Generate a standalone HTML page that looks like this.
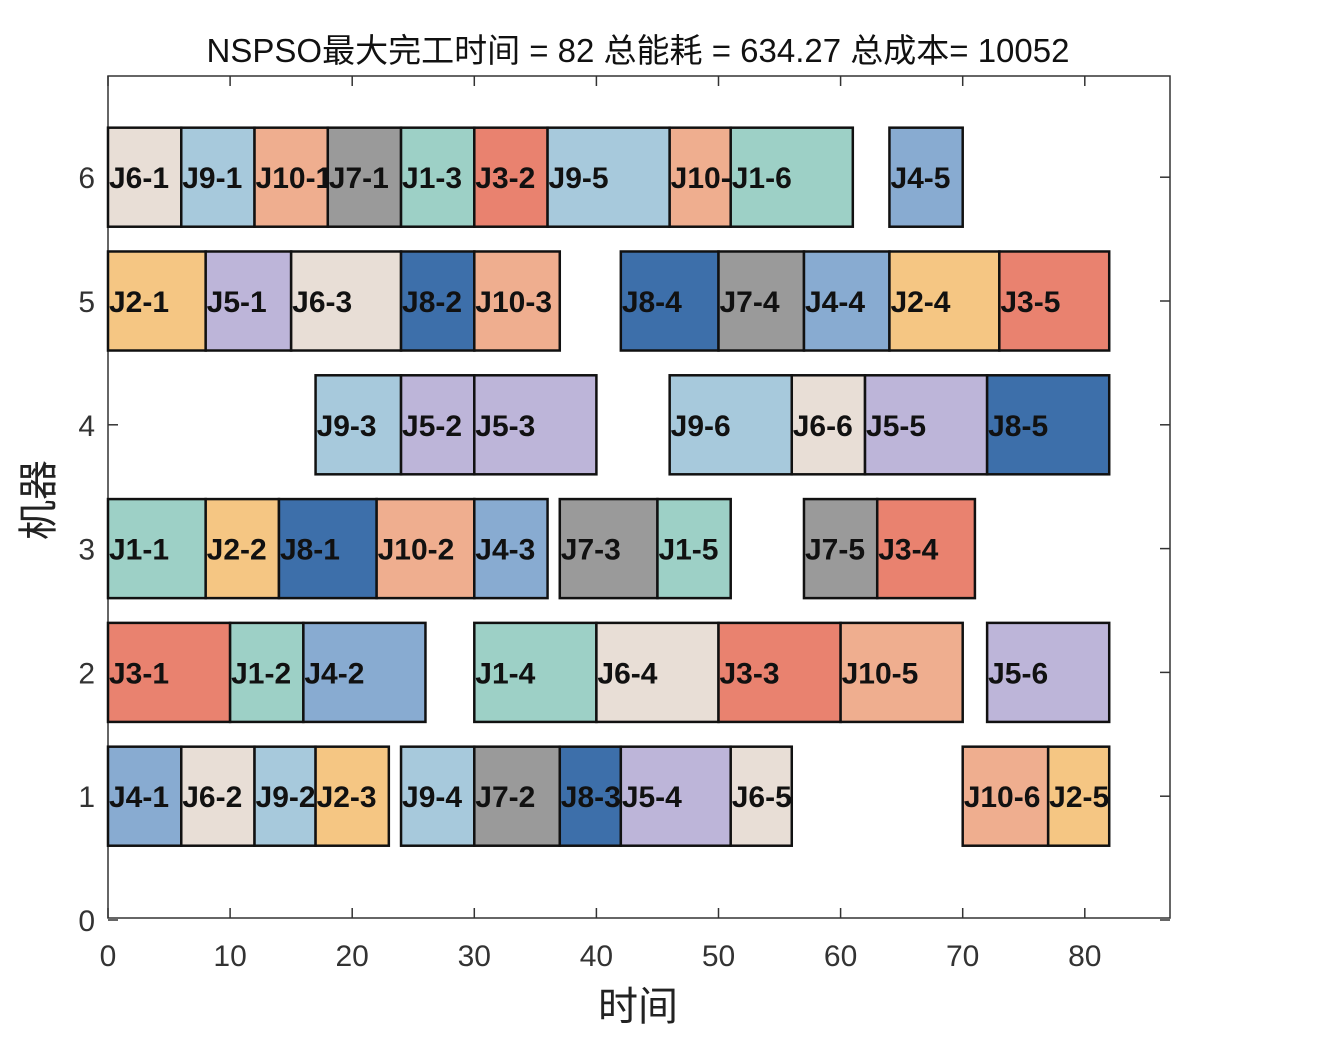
<!DOCTYPE html>
<html><head><meta charset="utf-8"><style>
html,body{margin:0;padding:0;background:#fff}
svg{display:block}
text{font-family:"Liberation Sans","Noto Sans CJK SC",sans-serif}
</style></head><body>
<svg id="chart" width="1318" height="1050" viewBox="0 0 1318 1050" xmlns="http://www.w3.org/2000/svg">
<text x="638" y="62" text-anchor="middle" font-size="33" fill="#111">NSPSO最大完工时间 = 82 总能耗 = 634.27 总成本= 10052</text>
<rect x="108" y="76" width="1062" height="842" fill="none" stroke="#333" stroke-width="1.5"/>
<g id="axes"></g>
<g id="bars"></g>
<text x="638" y="1020" text-anchor="middle" font-size="40" fill="#222">时间</text>
<text transform="translate(52,500) rotate(-90)" text-anchor="middle" font-size="40" fill="#222">机器</text>
</svg>
<script>
const machines=[6,6,6,6,6,6,6,6,6,6,5,5,5,5,5,5,5,5,5,5,4,4,4,4,4,4,4,3,3,3,3,3,3,3,3,3,2,2,2,2,2,2,2,2,1,1,1,1,1,1,1,1,1,1,1];
const labels=["J6-1","J9-1","J10-1","J7-1","J1-3","J3-2","J9-5","J10-4","J1-6","J4-5",
"J2-1","J5-1","J6-3","J8-2","J10-3","J8-4","J7-4","J4-4","J2-4","J3-5",
"J9-3","J5-2","J5-3","J9-6","J6-6","J5-5","J8-5",
"J1-1","J2-2","J8-1","J10-2","J4-3","J7-3","J1-5","J7-5","J3-4",
"J3-1","J1-2","J4-2","J1-4","J6-4","J3-3","J10-5","J5-6",
"J4-1","J6-2","J9-2","J2-3","J9-4","J7-2","J8-3","J5-4","J6-5","J10-6","J2-5"];
const starts=[0,6,12,18,24,30,36,46,51,64, 0,8,15,24,30,42,50,57,64,73, 17,24,30,46,56,62,72, 0,8,14,22,30,37,45,57,63, 0,10,16,30,40,50,60,72, 0,6,12,17,24,30,37,42,51,70,77];
const ends=[6,12,18,24,30,36,46,51,61,70, 8,15,24,30,37,50,57,64,73,82, 24,30,40,56,62,72,82, 8,14,22,30,36,45,51,63,71, 10,16,26,40,50,60,70,82, 6,12,17,23,30,37,42,51,56,77,82];
const xTicks=[0,10,20,30,40,50,60,70,80];
const yTicks=[0,1,2,3,4,5,6];
const colors={J1:"#9dd0c6",J2:"#f5c683",J3:"#e9826f",J4:"#88abd1",J5:"#bdb5d9",J6:"#e8ded6",J7:"#9a9a9a",J8:"#3d6faa",J9:"#a7c9dc",J10:"#efae8f"};
const X=v=>108+v*12.21, Y=v=>920-v*123.8;
const NS="http://www.w3.org/2000/svg";
const axes=document.getElementById('axes'), bars=document.getElementById('bars');
function mk(tag,attrs,parent){const e=document.createElementNS(NS,tag);for(const k in attrs)e.setAttribute(k,attrs[k]);parent.appendChild(e);return e;}
xTicks.forEach(t=>{
 const l1=mk('line',{x1:X(t),x2:X(t),y1:918,y2:908,stroke:'#333','stroke-width':1.5},axes);
 
 
 const l2=mk('line',{x1:X(t),x2:X(t),y1:76,y2:86,stroke:'#333','stroke-width':1.5},axes);
 
 
 const tx=mk('text',{x:X(t),y:966,'text-anchor':'middle','font-size':30,fill:'#333'},axes);
 tx.textContent=t;
 
 
});
yTicks.forEach(t=>{
 const l1=mk('line',{x1:108,x2:118,y1:Y(t),y2:Y(t),stroke:'#333','stroke-width':1.5},axes);
 
 
 const l2=mk('line',{x1:1160,x2:1170,y1:Y(t),y2:Y(t),stroke:'#333','stroke-width':1.5},axes);
 
 
 const tx=mk('text',{x:95,y:Y(t)+11,'text-anchor':'end','font-size':30,fill:'#333'},axes);
 tx.textContent=t;
 
 
});
labels.forEach((lab,i)=>{
 const m=machines[i], job=lab.split('-')[0];
 const r=mk('rect',{x:X(starts[i]),y:Y(m+0.4),width:X(ends[i])-X(starts[i]),height:Y(m-0.4)-Y(m+0.4),fill:colors[job],stroke:'#111','stroke-width':2.5},bars);
 
 
 const t=mk('text',{x:X(starts[i])+1,y:Y(m)+11,'font-size':30,'font-weight':'bold',fill:'#111'},bars);
 t.textContent=lab;
 
 
});
</script>
</body></html>
